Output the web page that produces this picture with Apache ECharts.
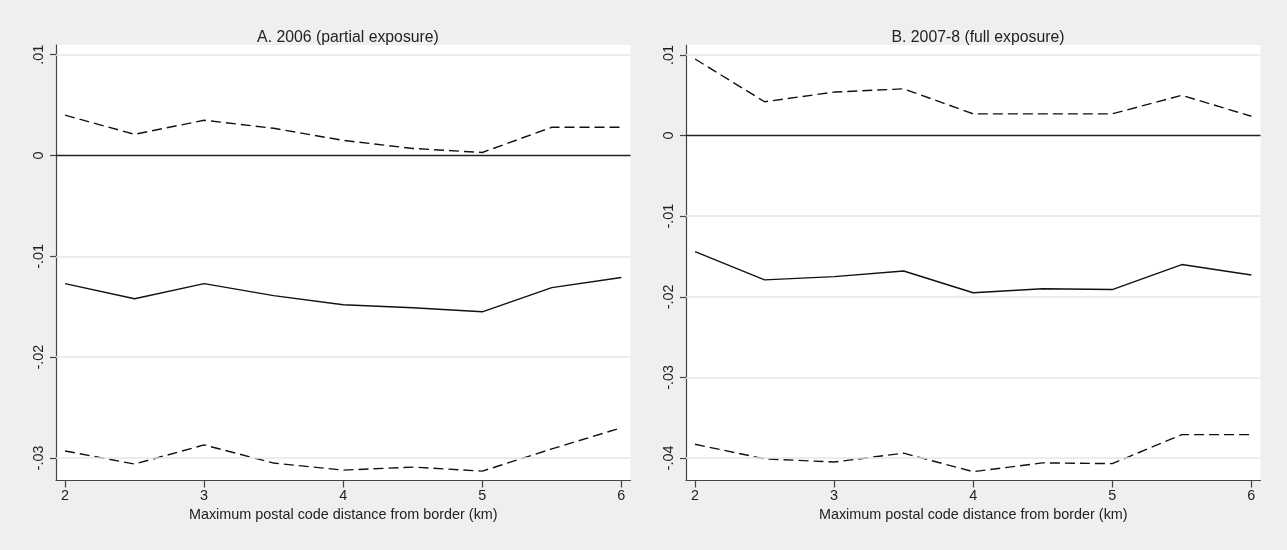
<!DOCTYPE html>
<html>
<head>
<meta charset="utf-8">
<script src="https://cdn.jsdelivr.net/npm/echarts@6/dist/echarts.min.js"></script>
<style>
  html, body { margin: 0; padding: 0; background: #efefef; }
  #app { width: 1287px; height: 550px; }
</style>
</head>
<body>
<div id="app"></div>
<script>
// distance from border (km)
var xVals = [2, 2.5, 3, 3.5, 4, 4.5, 5, 5.5, 6];
var xTicks = [2, 3, 4, 5, 6];

// panel A: 2006 (partial exposure)
var upperA = [0.0040, 0.0021, 0.0035, 0.0027, 0.0015, 0.0007, 0.0003, 0.0028, 0.0028];
var pointA = [-0.0127, -0.0142, -0.0127, -0.0139, -0.0148, -0.0151, -0.0155, -0.0131, -0.0121];
var lowerA = [-0.0293, -0.0306, -0.0287, -0.0305, -0.0312, -0.0309, -0.0313, -0.0291, -0.0270];
var yTicksA = [0.01, 0, -0.01, -0.02, -0.03];

// panel B: 2007-8 (full exposure)
var upperB = [0.0095, 0.0042, 0.0054, 0.0058, 0.0027, 0.0027, 0.0027, 0.0050, 0.0024];
var pointB = [-0.0144, -0.0179, -0.0175, -0.0168, -0.0195, -0.0190, -0.0191, -0.0160, -0.0173];
var lowerB = [-0.0383, -0.0401, -0.0405, -0.0394, -0.0417, -0.0406, -0.0407, -0.0371, -0.0371];
var yTicksB = [0.01, 0, -0.01, -0.02, -0.03, -0.04];

var titles = ['A. 2006 (partial exposure)', 'B. 2007-8 (full exposure)'];
var xTitle = 'Maximum postal code distance from border (km)';

var FONT = '"Liberation Sans", Arial, sans-serif';

function fmtY(v) {
    if (Math.abs(v) < 1e-9) return '0';
    var s = Math.abs(v).toFixed(2).replace(/^0/, '');
    return (v < 0 ? '-' : '') + s;
}

function pairs(ys) {
    return xVals.map(function (x, i) { return [x, ys[i]]; });
}

var grids = [
    {left: 56, top: 45, width: 574.5, height: 435.5, show: true, backgroundColor: '#ffffff', borderWidth: 0},
    {left: 686, top: 45, width: 574.5, height: 435.5, show: true, backgroundColor: '#ffffff', borderWidth: 0}
];

function makeX(idx) {
    return {
        type: 'value', gridIndex: idx, min: 1.935, max: 6.066,
        name: xTitle, nameLocation: 'middle', nameGap: 23,
        nameTextStyle: {color: '#222', fontSize: 14.4, fontFamily: FONT},
        axisLine: {show: true, onZero: false, lineStyle: {color: '#444', width: 1.2}},
        axisTick: {show: true, length: 7, customValues: xTicks, lineStyle: {color: '#444', width: 1.2}},
        axisLabel: {customValues: xTicks, margin: 9, color: '#222', fontSize: 14.4, fontFamily: FONT},
        splitLine: {show: false}
    };
}

function makeY(idx, ticks, min, max) {
    return {
        type: 'value', gridIndex: idx, min: min, max: max,
        axisLine: {show: true, onZero: false, lineStyle: {color: '#444', width: 1.2}},
        axisTick: {show: true, length: 6, customValues: ticks, lineStyle: {color: '#444', width: 1.2}},
        axisLabel: {customValues: ticks, rotate: 90, margin: 10, color: '#222', fontSize: 14.4,
            fontFamily: FONT, formatter: fmtY},
        splitLine: {show: false}
    };
}

function band(idx, ys, dashed, ticks) {
    var s = {
        type: 'line', xAxisIndex: idx, yAxisIndex: idx,
        data: pairs(ys), symbol: 'none', silent: true,
        lineStyle: {color: '#111', width: 1.4, type: dashed ? [10, 5] : 'solid'},
        z: 3
    };
    if (ticks) {
        // light grid lines at the labelled ticks, plus the black zero line
        var lines = ticks.filter(function (t) { return t !== 0; }).map(function (t) {
            return {yAxis: t, lineStyle: {color: '#e6e6e6', width: 1.6, type: 'solid'}};
        });
        lines.push({yAxis: 0, lineStyle: {color: '#222', width: 1.3, type: 'solid'}});
        s.markLine = {silent: true, symbol: 'none', label: {show: false}, animation: false, data: lines};
    }
    return s;
}

var option = {
    backgroundColor: '#efefef',
    animation: false,
    title: [
        {text: titles[0], left: 343, top: 25, textAlign: 'center',
            textStyle: {color: '#222', fontSize: 15.8, fontWeight: 'normal', fontFamily: FONT}},
        {text: titles[1], left: 973, top: 25, textAlign: 'center',
            textStyle: {color: '#222', fontSize: 15.8, fontWeight: 'normal', fontFamily: FONT}}
    ],
    grid: grids,
    xAxis: [makeX(0), makeX(1)],
    yAxis: [makeY(0, yTicksA, -0.03223, 0.01096), makeY(1, yTicksB, -0.04279, 0.01124)],
    series: [
        band(0, upperA, true, yTicksA),
        band(0, pointA, false),
        band(0, lowerA, true),
        band(1, upperB, true, yTicksB),
        band(1, pointB, false),
        band(1, lowerB, true)
    ]
};

var chart = echarts.init(document.getElementById('app'));
chart.setOption(option);
</script>
</body>
</html>
